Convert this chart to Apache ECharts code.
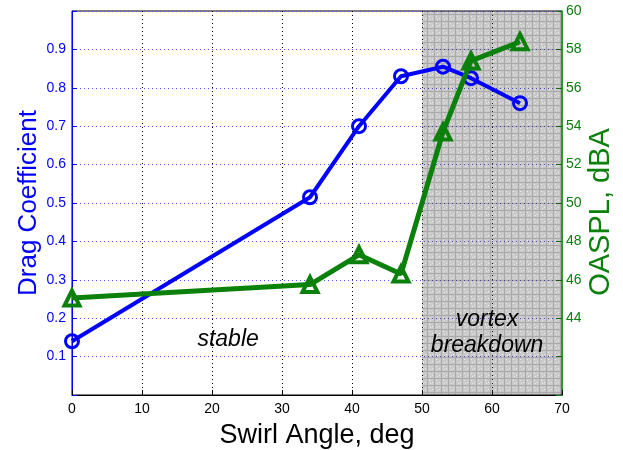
<!DOCTYPE html>
<html>
<head>
<meta charset="utf-8">
<script src="https://cdn.jsdelivr.net/npm/echarts@6/dist/echarts.min.js"></script>
<style>
  html, body { margin: 0; padding: 0; background: #fff; }
  #chart { width: 623px; height: 450px; }
</style>
</head>
<body>
<div id="chart"></div>
<script>
// Swirl angle (deg) of each measurement
const swirlAngle = [0, 34, 41, 47, 53, 57, 64];
// Drag coefficient at each swirl angle
const dragCoeff = [0.14, 0.515, 0.70, 0.83, 0.855, 0.825, 0.76];
// Overall sound pressure level, dBA
const oaspl = [45.05, 45.75, 47.3, 46.3, 53.7, 57.4, 58.4];
// Swirl range where the vortex breaks down
const breakdownRange = [50, 70];
// Region annotations: [x, drag-axis y, text]
const regionNotes = [
  [22.3, 0.143, 'stable'],
  [59.3, 0.162, 'vortex\nbreakdown']
];

const BLUE = '#0000ff';
const GREEN = '#0b800b';
const FONT = '"Liberation Sans", Arial, sans-serif';

// Grey cross-hatched fill used for the breakdown band
function hatchPattern() {
  const c = document.createElement('canvas');
  c.width = 7; c.height = 7;
  const g = c.getContext('2d');
  g.fillStyle = 'rgba(45,45,45,0.26)';
  g.fillRect(0, 0, 7, 7);
  g.clearRect(2, 2, 1, 1);
  g.clearRect(5, 4, 1, 1);
  g.clearRect(3, 5, 1, 1);
  g.fillStyle = 'rgba(45,45,45,0.1)';
  g.fillRect(2, 2, 1, 1);
  g.fillRect(5, 4, 1, 1);
  g.fillRect(3, 5, 1, 1);
  g.fillStyle = 'rgba(45,45,45,0.2)';
  g.fillRect(0, 0, 7, 1);
  g.fillRect(0, 1, 1, 6);
  return c;
}

const chart = echarts.init(document.getElementById('chart'), null, { renderer: 'canvas' });

const pairs = (ys) => swirlAngle.map((x, i) => [x, ys[i]]);

chart.setOption({
  animation: false,
  backgroundColor: '#fff',
  grid: {
    left: 72, right: 61, top: 11, bottom: 55,
    outerBoundsMode: 'none', containLabel: false,
    show: true, borderColor: '#000', borderWidth: 1, backgroundColor: 'transparent'
  },
  xAxis: {
    type: 'value', min: 0, max: 70, interval: 10,
    name: 'Swirl Angle, deg', nameLocation: 'middle', nameGap: 27,
    nameTextStyle: { color: '#000', fontSize: 27, fontFamily: FONT },
    axisLine: { show: true, lineStyle: { color: '#000', width: 1 } },
    axisTick: { show: true, inside: true, length: 5, lineStyle: { color: '#000' } },
    axisLabel: { color: '#000', fontSize: 14, fontFamily: FONT, margin: 7 },
    splitLine: { show: true, lineStyle: { color: '#000', type: [1, 3], width: 1 } }
  },
  yAxis: [
    {
      type: 'value', min: 0, max: 1, interval: 0.1, position: 'left',
      name: 'Drag Coefficient', nameLocation: 'middle', nameGap: 30, nameRotate: 90,
      nameMoveOverlap: false,
      nameTextStyle: { color: BLUE, fontSize: 26, fontFamily: FONT },
      axisLine: { show: true, lineStyle: { color: BLUE, width: 1 } },
      axisTick: { show: true, inside: true, length: 5, lineStyle: { color: BLUE } },
      axisLabel: {
        color: BLUE, fontSize: 14, fontFamily: FONT, margin: 6,
        formatter: (v) => (v < 0.05 || v > 0.95) ? '' : v.toFixed(1)
      },
      splitLine: { show: true, lineStyle: { color: '#5050ff', type: [1, 3], width: 1 } }
    },
    {
      type: 'value', min: 40, max: 60, interval: 2, position: 'right',
      name: 'OASPL, dBA', nameLocation: 'middle', nameGap: 24, nameRotate: 90,
      nameMoveOverlap: false,
      nameTextStyle: { color: GREEN, fontSize: 29, fontFamily: FONT, padding: [0, 18, 0, 0] },
      axisLine: { show: true, lineStyle: { color: '#2a9a2a', width: 1 } },
      axisTick: { show: true, inside: true, length: 6, lineStyle: { color: GREEN } },
      axisLabel: {
        color: GREEN, fontSize: 14, fontFamily: FONT, margin: 4,
        formatter: (v) => v < 43 ? '' : String(v)
      },
      splitLine: { show: false }
    }
  ],
  series: [
    {
      name: 'Drag Coefficient', type: 'line', yAxisIndex: 0, z: 2,
      data: pairs(dragCoeff),
      lineStyle: { color: BLUE, width: 4 },
      symbol: 'circle', symbolSize: 13,
      itemStyle: { color: 'rgba(0,0,0,0)', borderColor: BLUE, borderWidth: 3 },
      clip: false
    },
    {
      name: 'OASPL', type: 'line', yAxisIndex: 1, z: 3,
      data: pairs(oaspl),
      lineStyle: { color: GREEN, width: 5 },
      symbol: 'triangle', symbolSize: 15,
      itemStyle: { color: 'rgba(0,0,0,0)', borderColor: GREEN, borderWidth: 4 },
      clip: false
    },
    {
      name: 'breakdown band', type: 'line', yAxisIndex: 0, z: 4,
      data: [], silent: true,
      markArea: {
        silent: true,
        itemStyle: { color: { image: hatchPattern(), repeat: 'repeat' }, borderWidth: 0 },
        data: [[{ xAxis: breakdownRange[0], yAxis: 0 }, { xAxis: breakdownRange[1], yAxis: 1 }]]
      }
    },
    {
      name: 'notes', type: 'scatter', yAxisIndex: 0, z: 6,
      data: regionNotes.map((n) => ({ value: [n[0], n[1]], name: n[2] })),
      symbolSize: 0, silent: true,
      itemStyle: { opacity: 1 },
      label: {
        show: true, position: 'inside', formatter: (p) => p.name,
        color: '#000', opacity: 1, fontSize: 23, fontStyle: 'italic', fontFamily: FONT,
        lineHeight: 26, align: 'center', verticalAlign: 'middle'
      }
    }
  ]
});
</script>
</body>
</html>
